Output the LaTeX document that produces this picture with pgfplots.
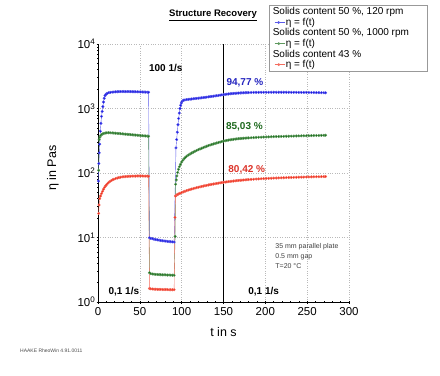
\documentclass[border=0pt]{standalone}
\usepackage{fontspec}
\setmainfont{Liberation Sans}
\usepackage{pgfplots}
\usepackage{pgfplotstable}
\pgfplotsset{compat=1.18}
\definecolor{cblue}{RGB}{20,20,225}
\definecolor{cgreen}{RGB}{25,110,25}
\definecolor{cred}{RGB}{240,45,25}
\definecolor{tblue}{RGB}{35,35,190}
\definecolor{tgreen}{RGB}{30,105,30}
\definecolor{tred}{RGB}{220,50,40}

\pgfplotstableread{
t v
0.5 75
1 140
1.5 205
2 280
2.8 445
3.5 590
4.2 755
5 900
5.8 1070
6.6 1260
7.4 1440
8.4 1580
9.5 1660
11 1720
13 1760
15 1780
17 1795
19 1805
21 1815
23 1820
25 1825
27 1830
29 1830
31 1832
33 1830
35 1830
37 1828
39 1825
41 1822
43 1820
45 1818
47 1815
49 1812
51 1808
53 1805
55 1800
57 1795
59 1790
60.5 1785
61.5 9.9
63 9.7
65 9.6
67 9.4
69 9.3
71 9.2
73 9.1
75 9.0
77 8.9
79 8.85
81 8.8
83 8.7
85 8.65
87 8.6
89 8.55
91 8.5
93.2 245
94 330
94.8 430
95.6 560
96.4 700
97.2 850
98 1000
98.8 1120
99.6 1220
100.5 1280
101.5 1320
102.5 1345
104 1360
106 1375
108 1385
110 1395
112 1405
114 1415
116 1425
118 1435
120 1445
122 1455
124 1465
126 1478
128 1490
130 1502
132 1515
134 1528
136 1540
138 1553
140 1566
142 1580
144 1595
146 1610
148 1625
150 1640
152 1655
154 1668
156 1680
158 1692
160 1703
162 1712
164 1720
166 1728
168 1735
170 1742
172 1748
174 1753
176 1758
178 1762
180 1766
183 1770
186 1774
189 1777
192 1780
195 1782
198 1784
201 1785
204 1786
207 1786
210 1787
213 1786
216 1786
219 1785
222 1785
225 1784
228 1783
231 1782
234 1781
237 1780
240 1778
243 1777
246 1775
249 1773
252 1771
255 1769
258 1767
261 1764
264 1761
267 1758
270 1755
272 1752
}\bluedata

\pgfplotstableread{
t v
0.8 110
1.4 330
2.2 360
3.2 380
4.4 395
5.8 405
7.2 412
8.8 417
10.5 420
12.5 421
14.5 420
17 418
19 416
21 414
23 412
25 410
27 407
29 405
31 402
33 400
35 398
37 396
39 393
41 391
43 389
45 387
47 385
49 383
51 381
53 379
55 377
57 375
59 373
60.5 372
61.5 2.85
63 2.75
65 2.72
67 2.7
69 2.68
71 2.67
73 2.66
75 2.65
77 2.64
79 2.64
81 2.63
83 2.62
85 2.62
87 2.61
89 2.6
91 2.6
92.2 10.4
92.8 67
93.5 78
94.3 90
95.2 102
96.2 114
97.3 125
98.5 136
100 148
101.5 158
103 167
104.5 175
106 182
108 190
110 197
112 204
114 211
116 218
118 224
120 230
122 236
124 242
126 248
128 254
130 260
132 266
134 272
136 277
138 282
140 287
142 292
144 297
146 302
148 307
150 312
152 316
154 320
156 324
158 327
160 330
162 333
164 336
166 338
168 340
170 342
172 344
174 346
176 347
178 349
180 350
183 352
186 354
189 356
192 358
195 359
198 361
201 362
204 363
207 365
210 366
213 367
216 368
219 369
222 370
225 371
228 372
231 373
234 374
237 375
240 376
243 377
246 378
249 378
252 379
255 380
258 381
261 382
264 382
267 383
270 384
272 385
}\greendata

\pgfplotstableread{
t v
0.8 23.6
1.3 32
2 40
3 44
4.2 48
5.4 52
6.6 56
7.8 60
9 63
10.3 66
11.6 69
13 72
14.5 74.5
16 76.5
17.5 78.5
19 80
21 82
23 83.5
25 85
27 86
29 87
31 87.5
33 88
35 88.5
37 89
39 89
41 89.5
43 89.5
45 89.5
47 90
49 90
51 90
53 90
55 89.5
57 89.5
59 89.5
60.5 89
61.5 1.62
63 1.6
65 1.59
67 1.58
69 1.58
71 1.57
73 1.57
75 1.57
77 1.56
79 1.56
81 1.56
83 1.56
85 1.55
87 1.55
89 1.55
91 1.55
92 20.5
92.6 44
93.5 45
94.5 46
95.5 46.8
96.5 47.5
98 48.5
100 49.8
102 51
104 52.2
106 53.3
108 54.4
110 55.4
112 56.4
114 57.4
116 58.3
118 59.2
120 60.1
122 61
124 61.9
126 62.8
128 63.6
130 64.4
132 65.2
134 66
136 66.8
138 67.5
140 68.2
142 69
144 69.7
146 70.4
148 71
150 71.7
152 72.3
154 72.9
156 73.5
158 74.1
160 74.6
162 75.1
164 75.6
166 76.1
168 76.6
170 77.1
172 77.5
174 77.9
176 78.3
178 78.7
180 79.1
183 79.6
186 80.1
189 80.6
192 81
195 81.4
198 81.8
201 82.2
204 82.6
207 82.9
210 83.3
213 83.6
216 83.9
219 84.2
222 84.5
225 84.8
228 85.1
231 85.3
234 85.6
237 85.8
240 86.1
243 86.3
246 86.5
249 86.7
252 86.9
255 87.1
258 87.3
261 87.5
264 87.6
267 87.8
270 88
272 88.1
}\reddata

\begin{document}
\begin{tikzpicture}
\useasboundingbox (0,0) rectangle (440bp,-376bp);
\begin{axis}[
  at={(98bp,-302bp)}, anchor=south west,
  scale only axis, width=251bp, height=258bp,
  xmin=0, xmax=300, ymin=1, ymax=10000, ymode=log,
  axis lines=left, axis line style={-, black, line width=0.7pt},
  xtick={0,50,...,300}, ytick={1,10,100,1000,10000},
  yticklabels={10\textsuperscript{0},10\textsuperscript{1},10\textsuperscript{2},10\textsuperscript{3},10\textsuperscript{4}},
  grid=major, major grid style={dotted, gray!55, line width=0.6pt},
  tick style={black, line width=0.5pt}, major tick length=3bp,
  minor x tick num=4, minor tick length=1.5bp,
  ticklabel style={font=\fontsize{11.5bp}{12bp}\selectfont},
  yticklabel style={inner sep=1bp},
  /pgf/number format/assume math mode=true,
  xlabel={t in s}, ylabel={η in Pas},
  label style={font=\fontsize{12.5bp}{14bp}\selectfont},
  xlabel style={at={(axis description cs:0.5,-0.115)}, anchor=center},
  ylabel style={at={(axis description cs:-0.18,0.519)}, anchor=center},
  clip=false,
  legend style={at={(0.681,1.151)}, anchor=north west, draw=gray!80, line width=0.5pt, fill=white,
    font=\fontsize{10bp}{10bp}\selectfont, inner sep=1.5bp, row sep=0.2bp, nodes={inner sep=0.8bp}},
  legend cell align=left,
  legend image code/.code={\draw[#1,mark=none,line width=0.6pt] (4bp,0bp) -- (14bp,0bp); \fill[#1,draw=none] (8bp,0bp) circle (1.5bp);},
]
\addplot[black, line width=1.3pt, forget plot] coordinates {(150,1) (150,10000)};

\addlegendimage{empty legend}
\addlegendentry{\hspace*{-13bp}Solids content 50 \%, 120 rpm}
\addplot[color=cblue!70, line width=0.4pt, mark=*, mark size=1.3pt, mark options={draw=none, fill=cblue}] table[x=t, y=v] {\bluedata};
\addlegendentry{η = f(t)}

\addlegendimage{empty legend}
\addlegendentry{\hspace*{-13bp}Solids content 50 \%, 1000 rpm\hspace*{16bp}}
\addplot[color=cgreen!70, line width=0.4pt, mark=*, mark size=1.3pt, mark options={draw=none, fill=cgreen}] table[x=t, y=v] {\greendata};
\addlegendentry{η = f(t)}

\addlegendimage{empty legend}
\addlegendentry{\hspace*{-13bp}Solids content 43 \%}
\addplot[color=cred!70, line width=0.4pt, mark=*, mark size=1.3pt, mark options={draw=none, fill=cred}] table[x=t, y=v] {\reddata};
\addlegendentry{η = f(t)}

\node[font=\bfseries\fontsize{10bp}{10bp}\selectfont] at (axis cs:81,4320) {100 1/s};
\node[font=\bfseries\fontsize{10bp}{10bp}\selectfont, text=tblue] at (axis cs:175.6,2510) {94,77 \%};
\node[font=\bfseries\fontsize{10bp}{10bp}\selectfont, text=tgreen] at (axis cs:175,528) {85,03 \%};
\node[font=\bfseries\fontsize{10bp}{10bp}\selectfont, text=tred] at (axis cs:177.8,111) {80,42 \%};
\node[font=\bfseries\fontsize{10bp}{10bp}\selectfont] at (axis cs:30.9,1.44) {0,1 1/s};
\node[font=\bfseries\fontsize{10bp}{10bp}\selectfont] at (axis cs:198,1.44) {0,1 1/s};
\node[anchor=north west, align=left, font=\fontsize{7bp}{10bp}\selectfont, text=black!75, inner sep=0pt] at (axis cs:211.8,8.1) {35 mm parallel plate\\0.5 mm gap\\T=20 °C};
\end{axis}
\node[font=\bfseries\fontsize{9.5bp}{10bp}\selectfont] at (213bp,-15bp) {\underline{Structure Recovery}};
\node[anchor=west, font=\fontsize{5bp}{6bp}\selectfont, text=black!70, inner sep=0pt] at (20bp,-351bp) {HAAKE RheoWin 4.91.0011};
\end{tikzpicture}
\end{document}
